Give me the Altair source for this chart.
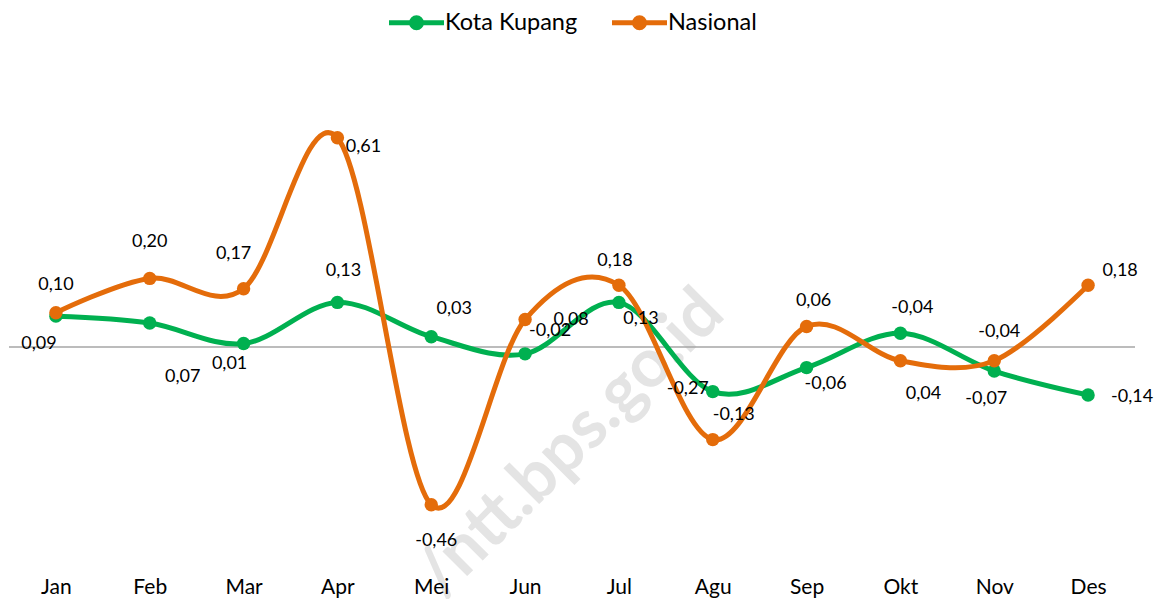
import altair as alt
import pandas as pd

# ---------------- data ----------------
months = ["Jan", "Feb", "Mar", "Apr", "Mei", "Jun", "Jul", "Agu", "Sep", "Okt", "Nov", "Des"]
series_names = ["Kota Kupang", "Nasional"]
kupang = [0.09, 0.07, 0.01, 0.13, 0.03, -0.02, 0.13, -0.13, -0.06, 0.04, -0.07, -0.14]
nasional = [0.10, 0.20, 0.17, 0.61, -0.46, 0.08, 0.18, -0.27, 0.06, -0.04, -0.04, 0.18]
watermark_text = "/ntt.bps.go.id"

# label placement (pixel offsets of each data label from its point)
kupang_label_off = [(-17, 28), (33, 54), (-14, 20), (6, -31), (23, -28), (25, -23),
                    (22, 17), (21, 23), (19, 16), (23, 61), (-8, 28), (44, 2)]
nasional_label_off = [(0, -28), (0, -36), (-10, -35), (26, 9), (5, 36), (46, 0),
                      (-4, -24), (-25, -51), (7, -25), (12, -53), (5, -29), (32, -14)]

colors = ["#00B050", "#E46C0A"]
FONT = "Lato"
W, H = 1126, 555
Y_DOMAIN = [-0.6297, 0.9883]


def fmt(v):
    return f"{v:.2f}".replace(".", ",")


rows = []
for i, m in enumerate(months):
    rows.append({"bulan": m, "idx": i, "seri": series_names[0], "nilai": kupang[i], "label": fmt(kupang[i])})
    rows.append({"bulan": m, "idx": i, "seri": series_names[1], "nilai": nasional[i], "label": fmt(nasional[i])})
df = pd.DataFrame(rows)

x_enc = alt.X(
    "bulan:N",
    sort=months,
    scale=alt.Scale(type="point", padding=0.5, domain=months),
    axis=alt.Axis(title=None, domain=False, ticks=False, grid=False, labelAngle=0, zindex=2,
                  labelFont=FONT, labelFontSize=21, labelColor="#000000", labelPadding=13),
)
y_scale = alt.Scale(domain=Y_DOMAIN, nice=False, zero=False)
y_enc = alt.Y("nilai:Q", scale=y_scale, axis=None)

legend_path = "M-2.5,0L2.5,0M-0.45,0A0.45,0.45,0,1,0,0.45,0A0.45,0.45,0,1,0,-0.45,0Z"
legend = alt.Legend(
    title=None, orient="none", legendX=394, legendY=1, direction="horizontal",
    symbolType=legend_path, symbolSize=484, symbolStrokeWidth=5, symbolOpacity=1,
    labelFont=FONT, labelFontSize=23.5, labelColor="#000000", labelOffset=15,
    columnPadding=24,
)
color_enc = alt.Color("seri:N", scale=alt.Scale(domain=series_names, range=colors), legend=legend)

base = alt.Chart(df)

wm = alt.Chart(pd.DataFrame({"t": [watermark_text]})).mark_text(
    font=FONT, fontSize=68, fontWeight="bold", color="#E4E4E4", angle=315,
    align="center", baseline="middle",
).encode(text="t:N", x=alt.value(562), y=alt.value(436))

zero = alt.Chart(pd.DataFrame({"z": [0.0]})).mark_rule(color="#A6A6A6", strokeWidth=1.5).encode(
    y=alt.Y("z:Q", scale=y_scale, axis=None), x=alt.value(0), x2=alt.value(W)
)

lines = base.mark_line(interpolate="cardinal", strokeWidth=5).encode(
    x=x_enc, y=y_enc, color=color_enc, order=alt.Order("idx:Q")
)
points = base.mark_point(filled=True, size=180, opacity=1).encode(
    x=x_enc, y=y_enc, color=color_enc
)

label_layers = []
for s_name, offs in [(series_names[0], kupang_label_off), (series_names[1], nasional_label_off)]:
    for m, (dx, dy) in zip(months, offs):
        label_layers.append(
            base.transform_filter(
                (alt.datum.seri == s_name) & (alt.datum.bulan == m)
            ).mark_text(font=FONT, fontSize=18, color="#000000", dx=dx, dy=dy,
                        align="center", baseline="middle").encode(x=x_enc, y=y_enc, text="label:N")
        )

layers = [wm, zero]
for s in series_names:
    layers.append(lines.transform_filter(alt.datum.seri == s))
    layers.append(points.transform_filter(alt.datum.seri == s))

chart = alt.layer(*layers, *label_layers).properties(
    width=W, height=H, padding=0, background="white"
).configure_view(stroke=None, strokeWidth=0)

chart.save("out.html", embed_options={"renderer": "svg", "actions": False})
